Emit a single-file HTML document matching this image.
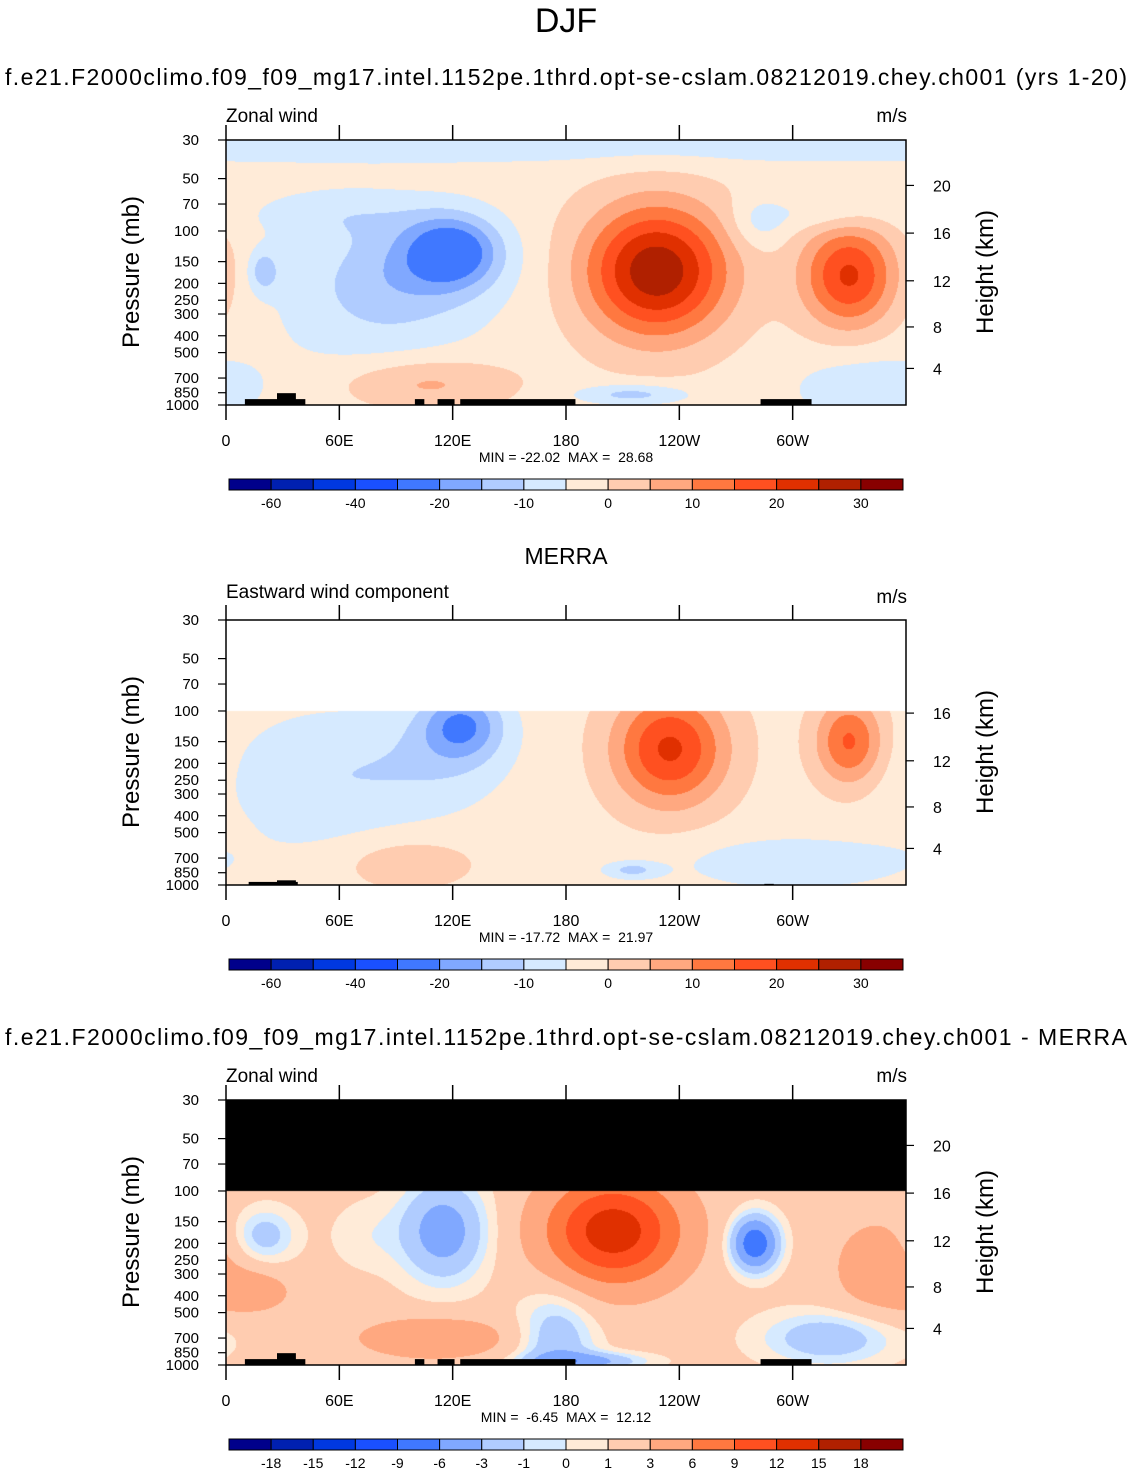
<!DOCTYPE html>
<html><head><meta charset="utf-8">
<style>
html,body{margin:0;padding:0;background:#fff;}
#wrap{position:relative;width:1133px;height:1475px;overflow:hidden;font-family:"Liberation Sans",sans-serif;}
canvas{position:absolute;}
svg{position:absolute;left:0;top:0;}
text{white-space:pre;}
</style></head>
<body>
<div id="wrap">
<canvas id="c1" width="680" height="265" style="left:226px;top:140px"></canvas>
<canvas id="c2" width="680" height="265" style="left:226px;top:620px"></canvas>
<canvas id="c3" width="680" height="265" style="left:226px;top:1100px"></canvas>
<svg id="ov" width="1133" height="1475"></svg>
</div>
<script>
// ---- data ----
const colors=["#00008B","#0020B0","#0038E0","#1A50FF","#4078FF","#80A8FF","#B0CCFF","#D6EAFF","#FFEBD8","#FFCCB0","#FFA880","#FF7840","#FF5020","#E03000","#B02000","#880000"];
const levelsWind=[-60,-50,-40,-30,-20,-15,-10,-5,0,5,10,15,20,25,30];
const labelsWind=["-60","","-40","","-20","","-10","","0","","10","","20","","30"];
const levelsDiff=[-18,-15,-12,-9,-6,-3,-1,0,1,3,6,9,12,15,18];
const labelsDiff=["-18","-15","-12","-9","-6","-3","-1","0","1","3","6","9","12","15","18"];
const pTicks=[30,50,70,100,150,200,250,300,400,500,700,850,1000];
const lonTicks=[0,60,120,180,240,300];
const lonLabels=["0","60E","120E","180","120W","60W"];
const hTicks1=[4,8,12,16,20];
const hTicks2=[4,8,12,16];
// gaussian features: [lon, pressure(mb), amplitude, lonWidth(deg), logpWidth]
const base1=-2, base2=-2, base3=1.5;
const feat1=[[180,31,-6,9999,0.13],[80,250,-7,55,0.45],[60,80,-5,50,0.15],[120,130,-20,25,0.2],[100,170,-6,45,0.28],[228,170,31,38,0.38],[330,180,23,25,0.3],[105,750,9,45,0.15],[215,870,-10,30,0.06],[340,800,-7,40,0.2],[20,170,-10,8,0.12],[282,90,-6,15,0.15],[320,80,-5,30,0.1]];
const feat2=[[50,250,-7,50,0.4],[125,120,-17,22,0.2],[110,200,-6,40,0.3],[235,165,23,30,0.33],[330,150,18,18,0.25],[95,750,6,35,0.15],[300,750,-7,60,0.15],[215,820,-9,15,0.05]];
const feat3=[[115,170,-6,22,0.28],[205,170,12.5,35,0.3],[280,200,-10,12,0.15],[345,280,3,25,0.3],[20,180,-3.5,16,0.15],[15,380,3,20,0.12],[175,750,-4,20,0.3],[320,700,-4,35,0.15],[110,700,4,40,0.12],[190,950,-5,30,0.05],[75,180,-1.2,20,0.2]];
// topography blocks: [lon0, lon1, topPressure]
const topo1=[[10,42,925],[27,37,855],[100,105,925],[112,121,925],[124,185,925],[283,310,925]];
const topo2=[[12,38,960],[27,37,940],[285,290,985]];
const topo3=topo1;

// ---- axes ----
const LP0=Math.log10(30), LPR=Math.log10(1000)-LP0;
function yP(p,top){return top+(Math.log10(p)-LP0)/LPR*265;}
function xL(l){return 226+l/360*680;}
function hToP(z){return z<=11?1013.25*Math.pow(1-2.2558e-5*z*1000,5.256):226.3*Math.exp(-(z-11)/6.34);}

function drawField(id,base,feats,levels,mask){
  const c=document.getElementById(id),ctx=c.getContext('2d');
  const img=ctx.createImageData(680,265);
  const rgb=colors.map(h=>[parseInt(h.substr(1,2),16),parseInt(h.substr(3,2),16),parseInt(h.substr(5,2),16)]);
  const F=feats.map(f=>[f[0],Math.log10(f[1]),f[2],f[3],f[4]]);
  for(let y=0;y<265;y++){
    const lp=LP0+(y+0.5)/265*LPR;
    const p=Math.pow(10,lp);
    for(let x=0;x<680;x++){
      const lon=(x+0.5)/680*360;
      let col;
      if(mask&&p<100){col=mask;}
      else{
        let v=base;
        for(const f of F){let d=Math.abs(lon-f[0]);if(d>180)d=360-d;
          const a=d/f[3],b=(lp-f[1])/f[4];v+=f[2]*Math.exp(-a*a-b*b);}
        let k=0;while(k<levels.length&&v>=levels[k])k++;
        col=rgb[k];
      }
      const i=(y*680+x)*4;img.data[i]=col[0];img.data[i+1]=col[1];img.data[i+2]=col[2];img.data[i+3]=255;
    }
  }
  ctx.putImageData(img,0,0);
}
drawField('c1',base1,feat1,levelsWind,null);
drawField('c2',base2,feat2,levelsWind,[255,255,255]);
drawField('c3',base3,feat3,levelsDiff,[0,0,0]);

const NS='http://www.w3.org/2000/svg',ov=document.getElementById('ov');
function el(tag,attrs,parent,text){const e=document.createElementNS(NS,tag);for(const k in attrs)e.setAttribute(k,attrs[k]);if(text!==undefined)e.textContent=text;(parent||ov).appendChild(e);return e;}

function txt(x,y,s,size,anchor,name){const t=el('text',{x:x,y:y,'font-size':size,'text-anchor':anchor||'middle',fill:'#000'},ov,s);

return t;}

txt(566,32,"DJF",34,'middle','figure-title');
const t1=txt(566,85,"f.e21.F2000climo.f09_f09_mg17.intel.1152pe.1thrd.opt-se-cslam.08212019.chey.ch001 (yrs 1-20)",23,'middle','panel1-title');
t1.setAttribute('textLength','1122');
txt(566,564,"MERRA",23,'middle','panel2-title');
const t3=txt(566,1045,"f.e21.F2000climo.f09_f09_mg17.intel.1152pe.1thrd.opt-se-cslam.08212019.chey.ch001 - MERRA",23,'middle','panel3-title');
t3.setAttribute('textLength','1122');

function panel(top,left,unitsY,hTicks,topo,minmax,levels,labels,n){
  const g=el('g',{});
  
  
  txt(226,left[1],left[0],19,'start','panel'+n+'-variable-label');
  txt(907,unitsY,"m/s",19,'end','panel'+n+'-units');
  for(const t of topo){const r=el('rect',{x:xL(t[0]),y:yP(t[2],top),width:xL(t[1])-xL(t[0]),height:top+265-yP(t[2],top),fill:'#000'},g);
    
    }
  const fr=el('rect',{x:226,y:top,width:680,height:265,fill:'none',stroke:'#000','stroke-width':1.5},g);
  
  
  lonTicks.forEach((l,i)=>{const x=xL(l);
    el('line',{x1:x,x2:x,y1:top-15,y2:top,stroke:'#000','stroke-width':1.5},g);
    el('line',{x1:x,x2:x,y1:top+265,y2:top+280,stroke:'#000','stroke-width':1.5},g);
    txt(x,top+306,lonLabels[i],16,'middle','lon-tick-label');});
  pTicks.forEach(p=>{const y=yP(p,top);
    el('line',{x1:218,x2:226,y1:y,y2:y,stroke:'#000','stroke-width':1.2},g);
    txt(199,y+5,String(p),15,'end','pressure-tick-label');});
  hTicks.forEach(h=>{const y=yP(hToP(h),top);
    el('line',{x1:906,x2:914,y1:y,y2:y,stroke:'#000','stroke-width':1.2},g);
    txt(933,y+6,String(h),16,'start','height-tick-label');});
  const ly=top+132;
  const a=el('text',{x:0,y:0,'font-size':24,'text-anchor':'middle',transform:`translate(139,${ly}) rotate(-90)`},ov,"Pressure (mb)");
  
  
  const b=el('text',{x:0,y:0,'font-size':24,'text-anchor':'middle',transform:`translate(993,${ly}) rotate(-90)`},ov,"Height (km)");
  
  
  txt(566,top+322,minmax,14,'middle','min-max-label');
  const cy=top+339,bw=674/16;
  colors.forEach((c,i)=>{const r=el('rect',{x:229+i*bw,y:cy,width:bw,height:11,fill:c,stroke:'#000','stroke-width':1},g);
    
    });
  levels.forEach((v,i)=>{if(labels[i])txt(229+(i+1)*bw,cy+29,labels[i],14,'middle','colorbar-label');});
}
panel(140,["Zonal wind",122],122,hTicks1,topo1,"MIN = -22.02  MAX =  28.68",levelsWind,labelsWind,1);
panel(620,["Eastward wind component",598],603,hTicks2,topo2,"MIN = -17.72  MAX =  21.97",levelsWind,labelsWind,2);
panel(1100,["Zonal wind",1082],1082,hTicks1,topo3,"MIN =  -6.45  MAX =  12.12",levelsDiff,labelsDiff,3);
</script>
</body></html>
